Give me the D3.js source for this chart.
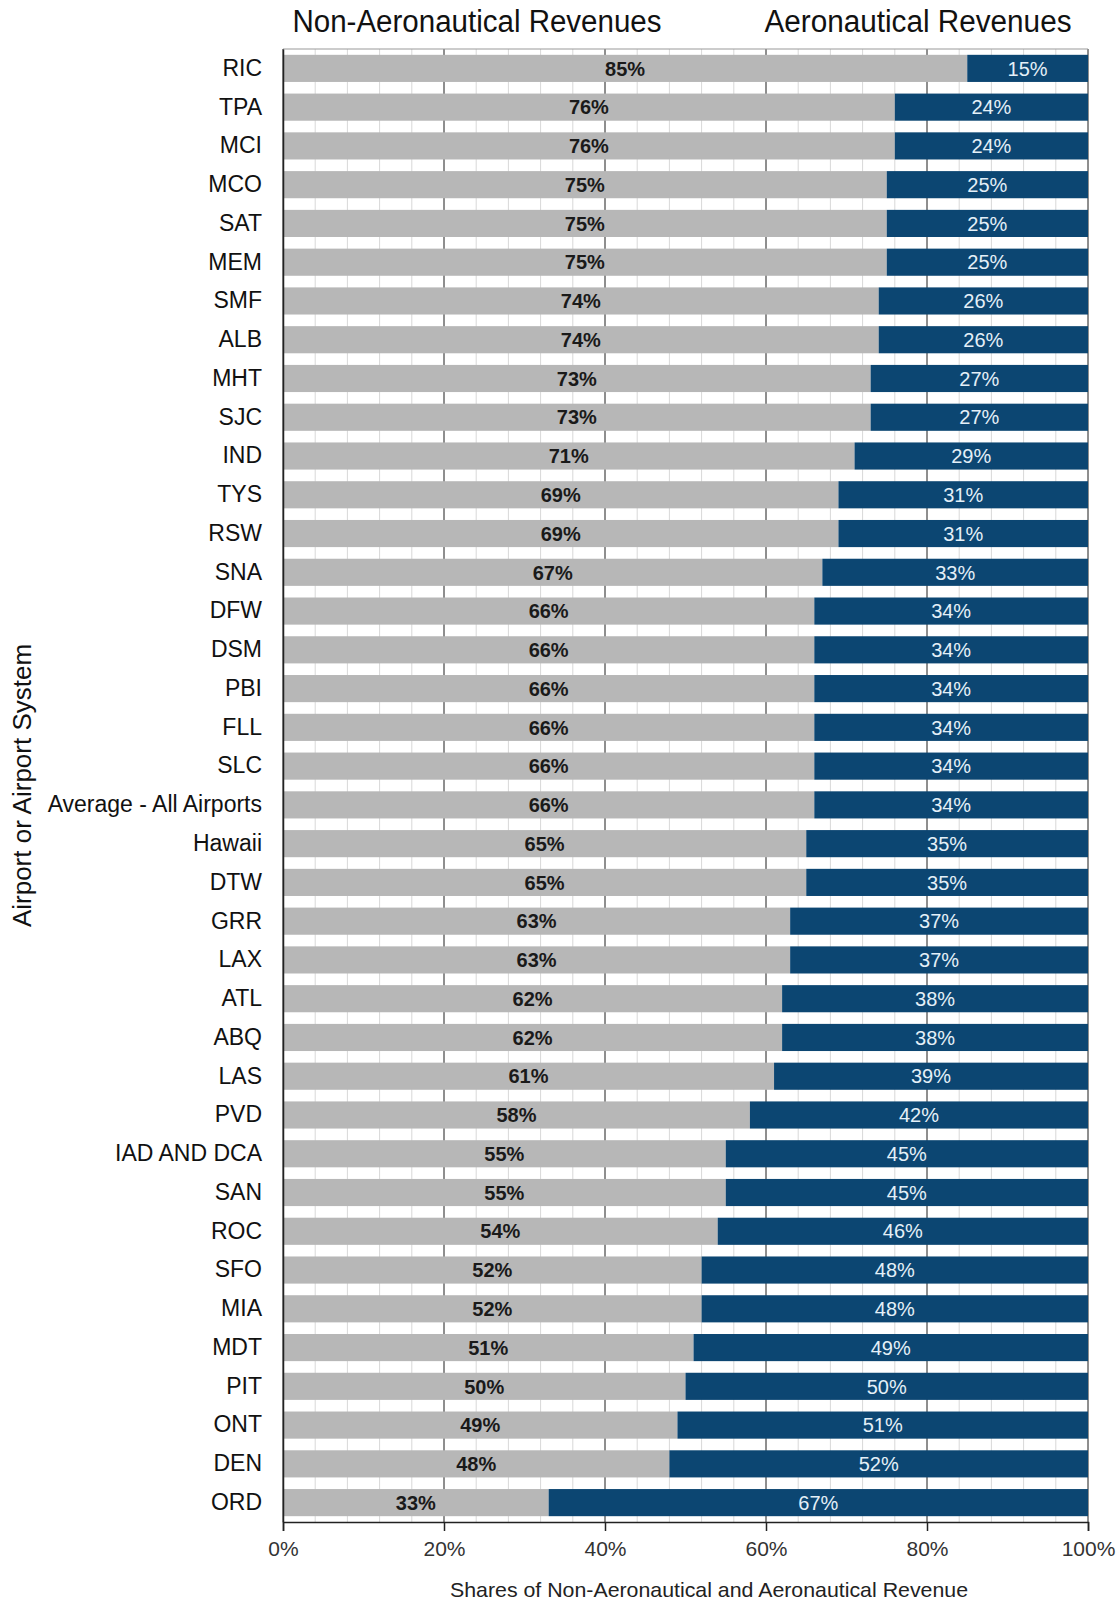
<!DOCTYPE html>
<html>
<head>
<meta charset="utf-8">
<script src="https://cdn.jsdelivr.net/npm/d3@7"></script>
<style>
  body { margin: 0; background: #fff; }
  text { font-family: "Liberation Sans", Arial, sans-serif; }
</style>
</head>
<body>
<script>
const w = 1120,
  h = 1602;

const airports = ['RIC', 'TPA', 'MCI', 'MCO', 'SAT', 'MEM', 'SMF', 'ALB', 'MHT', 'SJC', 'IND', 'TYS', 'RSW',
  'SNA', 'DFW', 'DSM', 'PBI', 'FLL', 'SLC', 'Average - All Airports', 'Hawaii', 'DTW', 'GRR', 'LAX', 'ATL',
  'ABQ', 'LAS', 'PVD', 'IAD AND DCA', 'SAN', 'ROC', 'SFO', 'MIA', 'MDT', 'PIT', 'ONT', 'DEN', 'ORD'];

const nonAero = [85, 76, 76, 75, 75, 75, 74, 74, 73, 73, 71, 69, 69, 67, 66, 66, 66, 66, 66, 66, 65, 65, 63, 63,
  62, 62, 61, 58, 55, 55, 54, 52, 52, 51, 50, 49, 48, 33];

const aero = [15, 24, 24, 25, 25, 25, 26, 26, 27, 27, 29, 31, 31, 33, 34, 34, 34, 34, 34, 34, 35, 35, 37, 37,
  38, 38, 39, 42, 45, 45, 46, 48, 48, 49, 50, 51, 52, 67];

const xTicks = [0, 20, 40, 60, 80, 100];

const margin = { top: 49, right: 32, bottom: 80, left: 283 };

const dataset = airports.map((name, i) => ({ name, non: nonAero[i], aero: aero[i] }));

const xScale = d3.scaleLinear()
  .domain([0, 100])
  .range([margin.left, w - margin.right]);

const yScale = d3.scaleBand()
  .domain(airports)
  .range([margin.top, h - margin.bottom])
  .paddingInner(0.3)
  .paddingOuter(0.15);

const svg = d3.select('body')
  .append('svg')
  .attr('width', w)
  .attr('height', h);

// minor grid every 4%
svg.append('g')
  .selectAll('line')
  .data(d3.range(0, 101, 4))
  .enter()
  .append('line')
  .attr('x1', d => xScale(d))
  .attr('x2', d => xScale(d))
  .attr('y1', margin.top)
  .attr('y2', h - margin.bottom)
  .attr('stroke', '#d8d8d8')
  .attr('stroke-width', 1);

// major grid
svg.append('g')
  .selectAll('line')
  .data(xTicks)
  .enter()
  .append('line')
  .attr('x1', d => xScale(d))
  .attr('x2', d => xScale(d))
  .attr('y1', margin.top)
  .attr('y2', h - margin.bottom)
  .attr('stroke', '#333')
  .attr('stroke-width', 1);

// frame top
svg.append('line')
  .attr('x1', margin.left)
  .attr('x2', w - margin.right)
  .attr('y1', margin.top)
  .attr('y2', margin.top)
  .attr('stroke', '#999');

const rows = svg.selectAll('g.row')
  .data(dataset)
  .enter()
  .append('g')
  .classed('row', true);

rows.append('rect')
  .attr('x', xScale(0))
  .attr('y', d => yScale(d.name))
  .attr('width', d => xScale(d.non) - xScale(0))
  .attr('height', yScale.bandwidth())
  .attr('fill', '#b7b7b7');

rows.append('rect')
  .attr('x', d => xScale(d.non))
  .attr('y', d => yScale(d.name))
  .attr('width', d => xScale(d.non + d.aero) - xScale(d.non))
  .attr('height', yScale.bandwidth())
  .attr('fill', '#0c4672');

rows.append('text')
  .attr('x', d => (xScale(0) + xScale(d.non)) / 2)
  .attr('y', d => yScale(d.name) + yScale.bandwidth() / 2)
  .attr('dy', '0.36em')
  .attr('text-anchor', 'middle')
  .attr('font-size', 20)
  .attr('font-weight', 'bold')
  .attr('fill', '#1a1a1a')
  .text(d => d.non + '%');

rows.append('text')
  .attr('x', d => (xScale(d.non) + xScale(d.non + d.aero)) / 2)
  .attr('y', d => yScale(d.name) + yScale.bandwidth() / 2)
  .attr('dy', '0.36em')
  .attr('text-anchor', 'middle')
  .attr('font-size', 20)
  .attr('fill', '#e4f0f8')
  .text(d => d.aero + '%');

const xAxis = d3.axisBottom()
  .scale(xScale)
  .tickValues(xTicks)
  .tickFormat(d => d + '%')
  .tickSize(9)
  .tickPadding(10);

const yAxis = d3.axisLeft()
  .scale(yScale)
  .tickSize(0)
  .tickPadding(21);

const gx = svg.append('g')
  .classed('x axis', true)
  .attr('transform', `translate(0, ${h - margin.bottom})`)
  .call(xAxis);
gx.selectAll('text').attr('font-size', 21).attr('fill', '#333');
gx.selectAll('line, path').attr('stroke', '#222').attr('stroke-width', 1.5);

const gy = svg.append('g')
  .classed('y axis', true)
  .attr('transform', `translate(${margin.left}, 0)`)
  .call(yAxis);
gy.selectAll('text').attr('font-size', 23).attr('fill', '#111');
gy.select('path').attr('stroke', '#222').attr('stroke-width', 1.5);

svg.append('text')
  .attr('x', 709)
  .attr('y', 1597)
  .attr('text-anchor', 'middle')
  .attr('font-size', 21)
  .attr('textLength', 518)
  .attr('lengthAdjust', 'spacingAndGlyphs')
  .attr('fill', '#222')
  .text('Shares of Non-Aeronautical and Aeronautical Revenue');

svg.append('text')
  .attr('transform', `translate(31, ${(margin.top + h - margin.bottom) / 2}) rotate(-90)`)
  .attr('text-anchor', 'middle')
  .attr('font-size', 26)
  .attr('fill', '#111')
  .text('Airport or Airport System');

svg.append('text')
  .attr('x', 477)
  .attr('y', 32)
  .attr('text-anchor', 'middle')
  .attr('font-size', 31)
  .attr('textLength', 369)
  .attr('lengthAdjust', 'spacingAndGlyphs')
  .attr('fill', '#111')
  .text('Non-Aeronautical Revenues');

svg.append('text')
  .attr('x', 918)
  .attr('y', 32)
  .attr('text-anchor', 'middle')
  .attr('font-size', 31)
  .attr('textLength', 307)
  .attr('lengthAdjust', 'spacingAndGlyphs')
  .attr('fill', '#111')
  .text('Aeronautical Revenues');
</script>
</body>
</html>
